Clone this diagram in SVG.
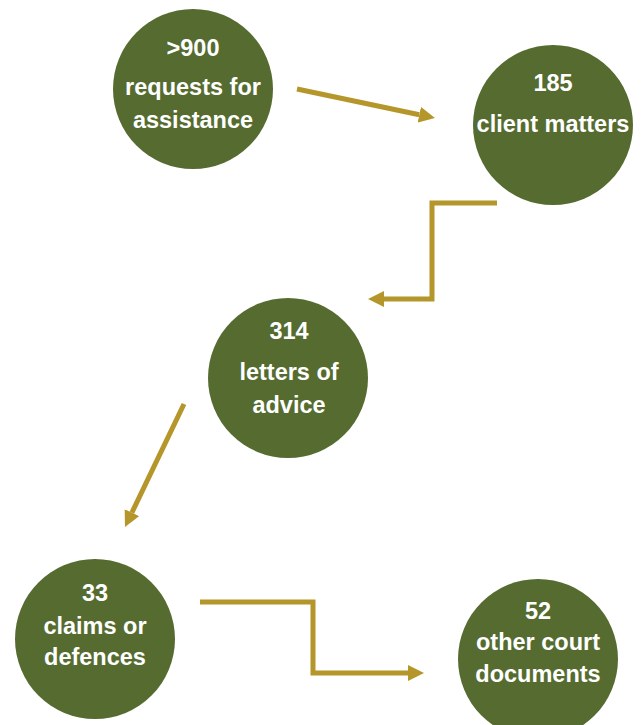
<svg xmlns="http://www.w3.org/2000/svg" width="641" height="725" viewBox="0 0 641 725">
<style>
.node circle{fill:#556B2F}
.node text{fill:#fff;font-family:"Liberation Sans",Arial,sans-serif;font-weight:bold;font-size:23.5px;text-anchor:middle}
.conn path{fill:none;stroke:#B4962A;stroke-width:5;marker-end:url(#ah)}
</style>
<defs>
<marker id="ah" markerUnits="userSpaceOnUse" viewBox="0 0 16 16" markerWidth="16" markerHeight="16" refX="0" refY="8" orient="auto">
<path d="M0,0 L16,8 L0,16 z" fill="#B4962A"/>
</marker>
</defs>
<rect width="641" height="725" fill="#fff"/>
<g class="conn">
<path d="M297,89 L419.3,114.7"/>
<path d="M497,203 H432 V299 H384"/>
<path d="M184,404 L131.9,512.6"/>
<path d="M200,602 H313 V673 H408"/>
</g>
<g id="n1" class="node">
<circle cx="193" cy="89" r="80"/>
<text x="193" y="56">&gt;900</text>
<text x="193" y="95">requests for</text>
<text x="193" y="128">assistance</text>
</g>
<g id="n2" class="node">
<circle cx="553" cy="125" r="80"/>
<text x="553" y="91">185</text>
<text x="553" y="132">client matters</text>
</g>
<g id="n3" class="node">
<circle cx="288" cy="378" r="80"/>
<text x="289" y="339">314</text>
<text x="289" y="380">letters of</text>
<text x="289" y="413">advice</text>
</g>
<g id="n4" class="node">
<circle cx="95" cy="639" r="80"/>
<text x="95" y="601">33</text>
<text x="95" y="634">claims or</text>
<text x="95" y="665">defences</text>
</g>
<g id="n5" class="node">
<circle cx="538" cy="659" r="80"/>
<text x="538" y="619">52</text>
<text x="538" y="650">other court</text>
<text x="538" y="682">documents</text>
</g>
</svg>
